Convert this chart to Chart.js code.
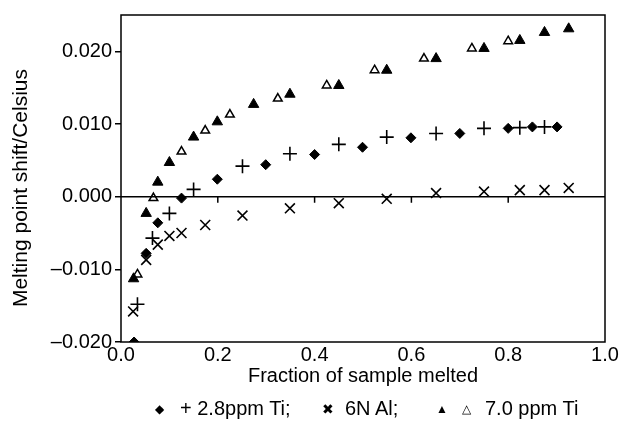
<!DOCTYPE html>
<html lang="en">
<head>
  <meta charset="UTF-8" />
  <title>Melting point shift</title>
  <script src="https://cdn.jsdelivr.net/npm/chart.js"></script>
  <style>
    body {
      margin: 0;
      background: #fff;
      font-family: "Liberation Sans", Arial, sans-serif;
    }
    #wrap {
      position: relative;
      width: 625px;
      height: 432px;
    }
    #legend {
      position: absolute;
      left: 0;
      top: 397px;
      width: 625px;
      height: 30px;
      font-size: 20px;
      color: #000;
    }
    #legend span { position: absolute; top: 0; white-space: nowrap; }
    #legend .sym { font-size: 12px; top: 5px; }
  </style>
</head>
<body>
  <div id="wrap">
    <canvas id="chart" width="625" height="432"></canvas>
    <div id="legend">
      <span class="sym" style="left:155px">◆</span>
      <span style="left:180px">+ 2.8ppm Ti;</span>
      <span class="sym" style="left:322px;font-size:14px;top:4px">✖</span>
      <span style="left:345px">6N Al;</span>
      <span class="sym" style="left:436px">▲</span>
      <span class="sym" style="left:462px">△</span>
      <span style="left:485px">7.0 ppm Ti</span>
    </div>
  </div>

  <script>
    // data
    const xTicks = [0.0, 0.2, 0.4, 0.6, 0.8, 1.0];
    const yTicks = [-0.02, -0.01, 0.0, 0.01, 0.02];
    const yTitle = 'Melting point shift/Celsius';

    // 2.8 ppm Ti, two runs (diamond / plus)
    const tiDiamondX = [0.027, 0.052, 0.076, 0.125, 0.199, 0.299, 0.400, 0.499, 0.599, 0.700, 0.800, 0.850, 0.901];
    const tiDiamondY = [-0.0200, -0.0078, -0.0036, -0.0002, 0.0024, 0.0044, 0.0058, 0.0068, 0.0081, 0.0087, 0.0094, 0.0096, 0.0096];
    const tiPlusX = [0.034, 0.065, 0.100, 0.150, 0.251, 0.349, 0.450, 0.549, 0.651, 0.750, 0.824, 0.875];
    const tiPlusY = [-0.0148, -0.0057, -0.0023, 0.0010, 0.0042, 0.0059, 0.0072, 0.0082, 0.0087, 0.0094, 0.0095, 0.0096];

    // 6N Al
    const alX = [0.025, 0.052, 0.076, 0.100, 0.125, 0.174, 0.251, 0.349, 0.450, 0.549, 0.651, 0.750, 0.824, 0.875, 0.925];
    const alY = [-0.0158, -0.0087, -0.0066, -0.0054, -0.0050, -0.0039, -0.0026, -0.0016, -0.0009, -0.0003, 0.0005, 0.0007, 0.0009, 0.0009, 0.0012];

    // 7.0 ppm Ti, two runs (filled / open triangle)
    const triFilledX = [0.026, 0.052, 0.076, 0.100, 0.150, 0.199, 0.274, 0.349, 0.450, 0.549, 0.651, 0.750, 0.824, 0.875, 0.925];
    const triFilledY = [-0.0113, -0.0023, 0.0020, 0.0047, 0.0082, 0.0103, 0.0127, 0.0141, 0.0153, 0.0174, 0.0190, 0.0204, 0.0215, 0.0226, 0.0231];
    const triOpenX = [0.034, 0.067, 0.125, 0.174, 0.225, 0.324, 0.425, 0.524, 0.626, 0.725, 0.800];
    const triOpenY = [-0.0107, -0.0002, 0.0062, 0.0091, 0.0113, 0.0135, 0.0153, 0.0174, 0.0190, 0.0204, 0.0214];

    const pts = (xs, ys) => xs.map((x, i) => ({ x: x, y: ys[i] }));

    // frame, zero line and the little ticks sitting on it, plus the y title
    const framePlugin = {
      id: 'frame',
      afterDatasetsDraw(chart) {
        const { ctx, chartArea: a, scales } = chart;
        const y0 = scales.y.getPixelForValue(0);
        ctx.save();
        ctx.strokeStyle = '#000';
        ctx.lineWidth = 1.5;
        ctx.strokeRect(a.left, a.top, a.right - a.left, a.bottom - a.top);
        ctx.beginPath();
        ctx.moveTo(a.left, y0);
        ctx.lineTo(a.right, y0);
        [0.2, 0.4, 0.6, 0.8].forEach(v => {
          const px = scales.x.getPixelForValue(v);
          ctx.moveTo(px, y0);
          ctx.lineTo(px, y0 + 6);
        });
        ctx.stroke();

        // y axis title, sits a bit below the plot middle in the original
        ctx.translate(27, 188);
        ctx.rotate(-Math.PI / 2);
        ctx.fillStyle = '#000';
        ctx.font = '21px "Liberation Sans"';
        ctx.textAlign = 'center';
        ctx.textBaseline = 'alphabetic';
        ctx.fillText(yTitle, 0, 0);
        ctx.restore();
      }
    };

    const fmt = v => (v < 0 ? '\u2013' : '') + Math.abs(v).toFixed(3);
    const font = { family: 'Liberation Sans', size: 20 };

    new Chart(document.getElementById('chart'), {
      type: 'scatter',
      data: {
        datasets: [
          { data: pts(triFilledX, triFilledY), pointStyle: 'triangle', radius: 6,
            backgroundColor: '#000', borderColor: '#000', borderWidth: 1 },
          { data: pts(triOpenX, triOpenY), pointStyle: 'triangle', radius: 5,
            backgroundColor: '#fff', borderColor: '#000', borderWidth: 1.5 },
          { data: pts(tiDiamondX, tiDiamondY), pointStyle: 'rectRot', radius: 5,
            backgroundColor: '#000', borderColor: '#000', borderWidth: 1 },
          { data: pts(tiPlusX, tiPlusY), pointStyle: 'cross', radius: 7,
            borderColor: '#000', borderWidth: 1.6 },
          { data: pts(alX, alY), pointStyle: 'crossRot', radius: 7,
            borderColor: '#000', borderWidth: 1.6 }
        ]
      },
      options: {
        responsive: false,
        animation: false,
        events: [],
        layout: { padding: { top: 15, right: 20, bottom: 40, left: 0 } },
        plugins: { legend: { display: false }, tooltip: { enabled: false } },
        scales: {
          x: {
            type: 'linear',
            min: 0, max: 1,
            afterBuildTicks: s => { s.ticks = xTicks.map(v => ({ value: v })); },
            afterFit: s => { s.height = 50; },
            grid: { display: false, drawTicks: false },
            border: { display: false },
            ticks: {
              color: '#000', padding: 1,
              font: font,
              callback: v => v.toFixed(1)
            },
            title: {
              display: true, text: 'Fraction of sample melted', color: '#000',
              font: font, padding: { top: 2 }
            }
          },
          y: {
            type: 'linear',
            min: -0.02, max: 0.025,
            afterBuildTicks: s => { s.ticks = yTicks.map(v => ({ value: v })); },
            afterFit: s => { s.width = 121; },
            grid: { drawOnChartArea: false, tickLength: 6, color: '#000', lineWidth: 1.5 },
            border: { display: false },
            ticks: {
              color: '#000', padding: 3,
              font: font,
              callback: fmt
            },
            title: { display: false }
          }
        }
      },
      plugins: [framePlugin]
    });
  </script>
</body>
</html>
